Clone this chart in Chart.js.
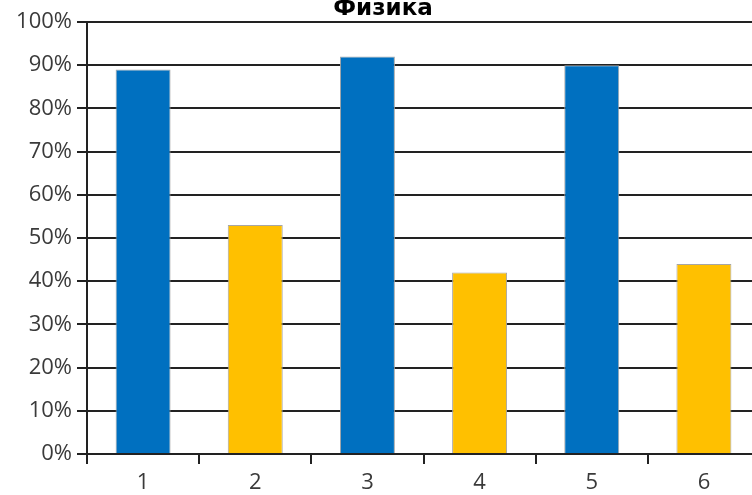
<!DOCTYPE html>
<html>
<head>
<meta charset="utf-8">
<script src="https://cdn.jsdelivr.net/npm/chart.js@4/dist/chart.umd.min.js"></script>
<style>
  html, body { margin: 0; padding: 0; background: #fff; overflow: hidden; }
  #wrap { width: 762px; height: 495px; position: relative; }
</style>
</head>
<body>
<div id="wrap"><canvas id="physChart"></canvas></div>
<script>
// Chart data
const chartTitle = 'Физика';
const categories = ['1', '2', '3', '4', '5', '6'];
const percentValues = [89, 53, 92, 42, 90, 44];
const yTicks = [0, 10, 20, 30, 40, 50, 60, 70, 80, 90, 100];

const BLUE = '#0070C0';
const YELLOW = '#FFC000';
const TEXT_COLOR = '#3a3a3a';
const FONT = "'Open Sans', 'DejaVu Sans', sans-serif";

// title is drawn by hand so it can sit half-clipped at the top like the original
const titlePlugin = {
    id: 'topTitle',
    afterDraw(chart) {
        const ctx = chart.ctx;
        ctx.save();
        ctx.font = "bold 23px 'DejaVu Sans', sans-serif";
        ctx.fillStyle = '#000';
        ctx.textAlign = 'center';
        ctx.textBaseline = 'alphabetic';
        ctx.fillText(chartTitle, 383, 15);
        ctx.restore();
    }
};

let chart;
function initChart() {
    const ctx = document.getElementById('physChart').getContext('2d');

    chart = new Chart(ctx, {
        type: 'bar',
        data: {
            labels: categories,
            datasets: [{
                label: chartTitle,
                data: percentValues,
                backgroundColor: categories.map((c, i) => i % 2 === 0 ? BLUE : YELLOW),
                borderColor: '#a6a6a6',
                borderWidth: 1,
                barPercentage: 0.49,
                categoryPercentage: 1
            }]
        },
        options: {
            responsive: true,
            maintainAspectRatio: false,
            animation: false,
            layout: { padding: { top: 22, right: 2, left: 0, bottom: 0 } },
            plugins: {
                legend: { display: false },
                title: { display: false },
                tooltip: { enabled: false }
            },
            scales: {
                x: {
                    grid: {
                        offset: true,
                        drawOnChartArea: false,
                        drawTicks: true,
                        tickLength: 10,
                        color: '#222',
                        lineWidth: 2
                    },
                    border: { display: false },
                    ticks: {
                        color: TEXT_COLOR,
                        font: { family: FONT, size: 22 },
                        padding: 6,
                        maxRotation: 0
                    },
                    afterFit(scale) { scale.height = 41; }
                },
                y: {
                    min: 0,
                    max: 100,
                    afterBuildTicks(scale) {
                        scale.ticks = yTicks.map(v => ({ value: v }));
                    },
                    grid: {
                        color: '#222',
                        lineWidth: 2,
                        tickLength: 10
                    },
                    border: { display: true, color: '#222', width: 2 },
                    ticks: {
                        color: TEXT_COLOR,
                        font: { family: FONT, size: 22 },
                        padding: 5,
                        callback: v => v + '%'
                    },
                    afterFit(scale) { scale.width = 87; }
                }
            }
        },
        plugins: [titlePlugin]
    });
}

window.addEventListener('load', function() {
    initChart();
});
</script>
</body>
</html>
